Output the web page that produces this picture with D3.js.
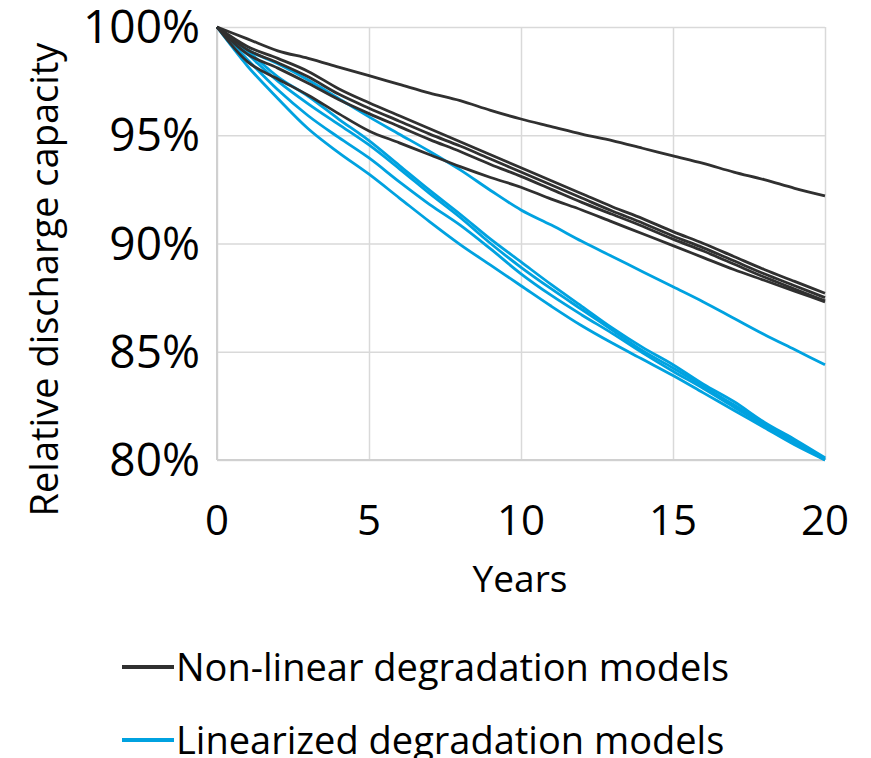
<!DOCTYPE html>
<html><head><meta charset="utf-8">
<script src="https://cdn.jsdelivr.net/npm/d3@7"></script>
<style>
body{margin:0;background:#fff}
svg{display:block}
text{font-family:"Open Sans",sans-serif;fill:#000}
</style>
</head><body>
<svg id="chart" width="871" height="758"></svg>
<script>
// ---- data ----
const years = [0,1,2,3,4,5,6,7,8,9,10,11,12,13,14,15,16,17,18,19,20];
const xTicks = [0,5,10,15,20];
const yTicks = [80,85,90,95,100];
const legendLabels = ["Non-linear degradation models","Linearized degradation models"];

const nonLinear1 = [100,99.45,98.9,98.55,98.15,97.75,97.35,96.95,96.6,96.15,95.75,95.4,95.05,94.75,94.4,94.05,93.7,93.3,92.95,92.55,92.2];
const nonLinear2 = [100,99.1,98.55,97.95,97.15,96.5,95.9,95.3,94.7,94.1,93.5,92.9,92.3,91.7,91.15,90.55,90.0,89.4,88.8,88.25,87.7];
const nonLinear3 = [100,98.95,98.35,97.7,96.9,96.25,95.65,95.05,94.5,93.9,93.3,92.7,92.1,91.5,90.95,90.35,89.8,89.2,88.6,88.05,87.5];
const nonLinear4 = [100,98.75,98.1,97.4,96.65,96.0,95.4,94.8,94.25,93.65,93.1,92.5,91.9,91.35,90.8,90.2,89.65,89.05,88.45,87.9,87.35];
const nonLinear5 = [100,98.4,97.6,96.85,96.0,95.2,94.65,94.1,93.55,93.05,92.6,92.05,91.55,91.0,90.45,89.9,89.35,88.8,88.3,87.8,87.3];

const linear1 = [100,98.95,98.3,97.55,96.7,95.85,95.05,94.25,93.4,92.45,91.55,90.85,90.1,89.4,88.7,88.0,87.3,86.55,85.8,85.1,84.4];
const linear2 = [100,98.9,97.7,96.8,95.75,94.75,93.6,92.45,91.35,90.2,89.15,88.1,87.1,86.1,85.2,84.4,83.5,82.7,81.75,80.95,80.1];
const linear3 = [100,98.75,97.5,96.45,95.5,94.55,93.45,92.3,91.2,90.0,88.9,87.9,86.95,86.0,85.05,84.25,83.4,82.55,81.7,80.85,80.05];
const linear4 = [100,98.5,97.1,95.9,94.9,93.95,92.85,91.8,90.85,89.75,88.6,87.6,86.7,85.85,84.95,84.1,83.3,82.45,81.6,80.8,80.0];
const linear5 = [100,98.2,96.7,95.3,94.2,93.2,92.1,91.0,89.95,89.0,88.05,87.1,86.2,85.4,84.65,83.9,83.1,82.3,81.5,80.7,80.0];

const nonLinearSeries = [nonLinear1,nonLinear2,nonLinear3,nonLinear4,nonLinear5];
const linearSeries = [linear1,linear2,linear3,linear4,linear5];

// ---- layout ----
const plotL = 217, plotR = 825, plotT = 27, plotB = 460;
const svg = d3.select("#chart");

const x = d3.scaleLinear().domain([0,20]).range([plotL,plotR]);
const y = d3.scaleLinear().domain([80,100]).range([plotB,plotT]);

const gridColor = "#d9d9d9";
const darkColor = "#303030";
const blueColor = "#00a2e0";

// gridlines via axes
const gx = svg.append("g").attr("transform",`translate(0,${plotB})`)
  .call(d3.axisBottom(x).tickValues(xTicks).tickSize(-(plotB-plotT)).tickFormat(""));
gx.select(".domain").remove();
gx.selectAll(".tick line").attr("stroke",gridColor).attr("stroke-width",1.5);

const gy = svg.append("g").attr("transform",`translate(${plotL},0)`)
  .call(d3.axisLeft(y).tickValues(yTicks).tickSize(-(plotR-plotL)).tickFormat(""));
gy.select(".domain").remove();
gy.selectAll(".tick line").attr("stroke",gridColor).attr("stroke-width",1.5);

// axis lines
svg.append("line").attr("x1",plotL).attr("x2",plotR).attr("y1",plotB).attr("y2",plotB)
  .attr("stroke","#d0d0d0").attr("stroke-width",2);
svg.append("line").attr("x1",plotL).attr("x2",plotL).attr("y1",plotT).attr("y2",plotB)
  .attr("stroke","#d0d0d0").attr("stroke-width",2);

// tick labels
svg.append("g").selectAll("text").data(yTicks).join("text")
  .attr("x",200).attr("y",d=>y(d)+16)
  .attr("text-anchor","end").style("font-size","46px")
  .text(d=>d+"%");
svg.append("g").selectAll("text").data(xTicks).join("text")
  .attr("x",d=>x(d)).attr("y",535)
  .attr("text-anchor","middle").style("font-size","42px")
  .text(d=>d);

// axis titles
svg.append("text").attr("x",520).attr("y",592).attr("text-anchor","middle")
  .style("font-size","37px").text("Years");
svg.append("text").attr("transform",`translate(58,${(plotT+plotB)/2+36}) rotate(-90)`)
  .attr("text-anchor","middle").style("font-size","38px").text("Relative discharge capacity");

// lines
const line = d3.line().x((d,i)=>x(years[i])).y(d=>y(d)).curve(d3.curveMonotoneX);
svg.append("g").selectAll("path").data(linearSeries).join("path")
  .attr("d",line).attr("fill","none").attr("stroke",blueColor).attr("stroke-width",2.8)
  .attr("stroke-linejoin","round");
svg.append("g").selectAll("path").data(nonLinearSeries).join("path")
  .attr("d",line).attr("fill","none").attr("stroke",darkColor).attr("stroke-width",2.8)
  .attr("stroke-linejoin","round");

// legend
const legendColors = [darkColor, blueColor];
const lg = svg.append("g").selectAll("g").data(legendLabels).join("g")
  .attr("transform",(d,i)=>`translate(0,${667+i*73})`);
lg.append("line").attr("x1",122).attr("x2",174).attr("y1",0).attr("y2",0)
  .attr("stroke",(d,i)=>legendColors[i]).attr("stroke-width",4);
lg.append("text").attr("x",176).attr("y",14).style("font-size","38px").text(d=>d);
</script>
</body></html>
